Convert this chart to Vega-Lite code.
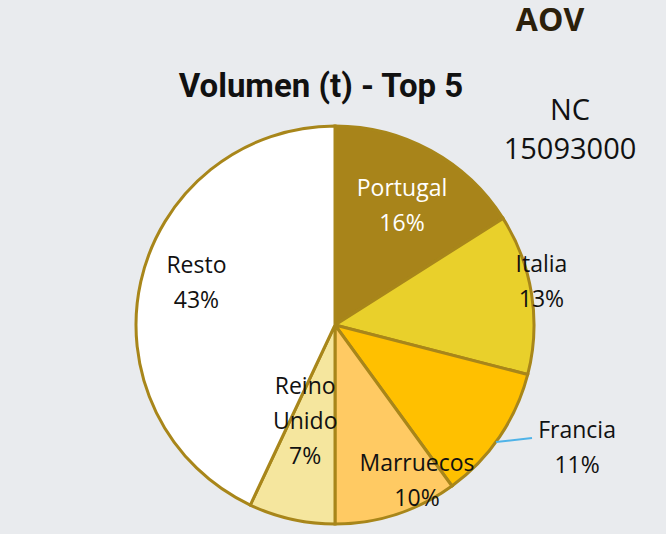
{
  "$schema": "https://vega.github.io/schema/vega-lite/v6.json",
  "width": 400,
  "height": 400,
  "autosize": {"type": "none"},
  "padding": {"left": 135, "top": 125, "right": 131, "bottom": 9},
  "background": "#e9ebee",
  "view": {"stroke": null},
  "data": {
    "values": [
      {"pais": "Portugal", "pct": 16, "ord": 1, "label": "Portugal\n16%"},
      {"pais": "Italia", "pct": 13, "ord": 2, "label": "Italia\n13%"},
      {"pais": "Francia", "pct": 11, "ord": 3, "label": "Francia\n11%"},
      {"pais": "Marruecos", "pct": 10, "ord": 4, "label": "Marruecos\n10%"},
      {"pais": "Reino Unido", "pct": 7, "ord": 5, "label": "Reino\nUnido\n7%"},
      {"pais": "Resto", "pct": 43, "ord": 6, "label": "Resto\n43%"}
    ]
  },
  "layer": [
    {
      "mark": {"type": "arc", "radius": 199, "stroke": "#a8861a", "strokeWidth": 3},
      "encoding": {
        "theta": {"field": "pct", "type": "quantitative", "stack": true},
        "order": {"field": "ord", "type": "quantitative"},
        "color": {
          "field": "pais",
          "type": "nominal",
          "scale": {
            "domain": ["Portugal", "Italia", "Francia", "Marruecos", "Reino Unido", "Resto"],
            "range": ["#a8841a", "#e9d02b", "#ffc000", "#ffca63", "#f5e69e", "#ffffff"]
          },
          "legend": null
        }
      }
    },
    {
      "mark": {"type": "text", "radius": 137, "dx": 1, "dy": -15.5, "font": "Open Sans", "fontSize": 23, "lineBreak": "\n", "lineHeight": 35, "color": "#ffffff"},
      "encoding": {
        "theta": {"field": "pct", "type": "quantitative", "stack": true},
        "order": {"field": "ord", "type": "quantitative"},
        "detail": {"field": "pais", "type": "nominal"},
        "text": {"field": "label", "type": "nominal"},
        "opacity": {"condition": {"test": "datum.pais === 'Portugal'", "value": 1}, "value": 0}
      }
    },
    {
      "mark": {"type": "text", "radius": 208, "dx": 1, "dy": -27.5, "font": "Open Sans", "fontSize": 23, "lineBreak": "\n", "lineHeight": 35, "color": "#111111"},
      "encoding": {
        "theta": {"field": "pct", "type": "quantitative", "stack": true},
        "order": {"field": "ord", "type": "quantitative"},
        "detail": {"field": "pais", "type": "nominal"},
        "text": {"field": "label", "type": "nominal"},
        "opacity": {"condition": {"test": "datum.pais === 'Italia'", "value": 1}, "value": 0}
      }
    },
    {
      "mark": {"type": "text", "radius": 260, "dx": 27, "dy": -40.5, "font": "Open Sans", "fontSize": 23, "lineBreak": "\n", "lineHeight": 35, "color": "#111111"},
      "encoding": {
        "theta": {"field": "pct", "type": "quantitative", "stack": true},
        "order": {"field": "ord", "type": "quantitative"},
        "detail": {"field": "pais", "type": "nominal"},
        "text": {"field": "label", "type": "nominal"},
        "opacity": {"condition": {"test": "datum.pais === 'Francia'", "value": 1}, "value": 0}
      }
    },
    {
      "mark": {"type": "text", "radius": 165, "dx": 31, "dy": -17.5, "font": "Open Sans", "fontSize": 23, "lineBreak": "\n", "lineHeight": 35, "color": "#111111"},
      "encoding": {
        "theta": {"field": "pct", "type": "quantitative", "stack": true},
        "order": {"field": "ord", "type": "quantitative"},
        "detail": {"field": "pais", "type": "nominal"},
        "text": {"field": "label", "type": "nominal"},
        "opacity": {"condition": {"test": "datum.pais === 'Marruecos'", "value": 1}, "value": 0}
      }
    },
    {
      "mark": {"type": "text", "radius": 100, "dx": -8, "dy": -36, "font": "Open Sans", "fontSize": 23, "lineBreak": "\n", "lineHeight": 35, "color": "#111111"},
      "encoding": {
        "theta": {"field": "pct", "type": "quantitative", "stack": true},
        "order": {"field": "ord", "type": "quantitative"},
        "detail": {"field": "pais", "type": "nominal"},
        "text": {"field": "label", "type": "nominal"},
        "opacity": {"condition": {"test": "datum.pais === 'Reino Unido'", "value": 1}, "value": 0}
      }
    },
    {
      "mark": {"type": "text", "radius": 143, "dx": 1, "dy": -27.5, "font": "Open Sans", "fontSize": 23, "lineBreak": "\n", "lineHeight": 35, "color": "#111111"},
      "encoding": {
        "theta": {"field": "pct", "type": "quantitative", "stack": true},
        "order": {"field": "ord", "type": "quantitative"},
        "detail": {"field": "pais", "type": "nominal"},
        "text": {"field": "label", "type": "nominal"},
        "opacity": {"condition": {"test": "datum.pais === 'Resto'", "value": 1}, "value": 0}
      }
    },
    {
      "data": {"values": [{"t": "Volumen (t) - Top 5"}]},
      "mark": {"type": "text", "font": "Roboto", "fontSize": 33, "fontWeight": "bold", "color": "#111111", "baseline": "alphabetic"},
      "encoding": {
        "text": {"field": "t", "type": "nominal"},
        "x": {"value": 186},
        "y": {"value": -28}
      }
    },
    {
      "data": {"values": [{"t": "AOV"}]},
      "mark": {"type": "text", "font": "Open Sans", "fontSize": 32, "fontWeight": "bold", "color": "#2b200b", "baseline": "middle"},
      "encoding": {
        "text": {"field": "t", "type": "nominal"},
        "x": {"value": 415},
        "y": {"value": -104}
      }
    },
    {
      "data": {"values": [{"t": "NC\n15093000"}]},
      "mark": {"type": "text", "font": "Open Sans", "fontSize": 29, "lineBreak": "\n", "lineHeight": 39, "color": "#111111"},
      "encoding": {
        "text": {"field": "t", "type": "nominal"},
        "x": {"value": 435},
        "y": {"value": -14}
      }
    },
    {
      "data": {"values": [{"a": 1}]},
      "mark": {"type": "rule", "color": "#4fb3e8", "strokeWidth": 2},
      "encoding": {
        "x": {"value": 361},
        "y": {"value": 317},
        "x2": {"value": 397},
        "y2": {"value": 313}
      }
    }
  ]
}
